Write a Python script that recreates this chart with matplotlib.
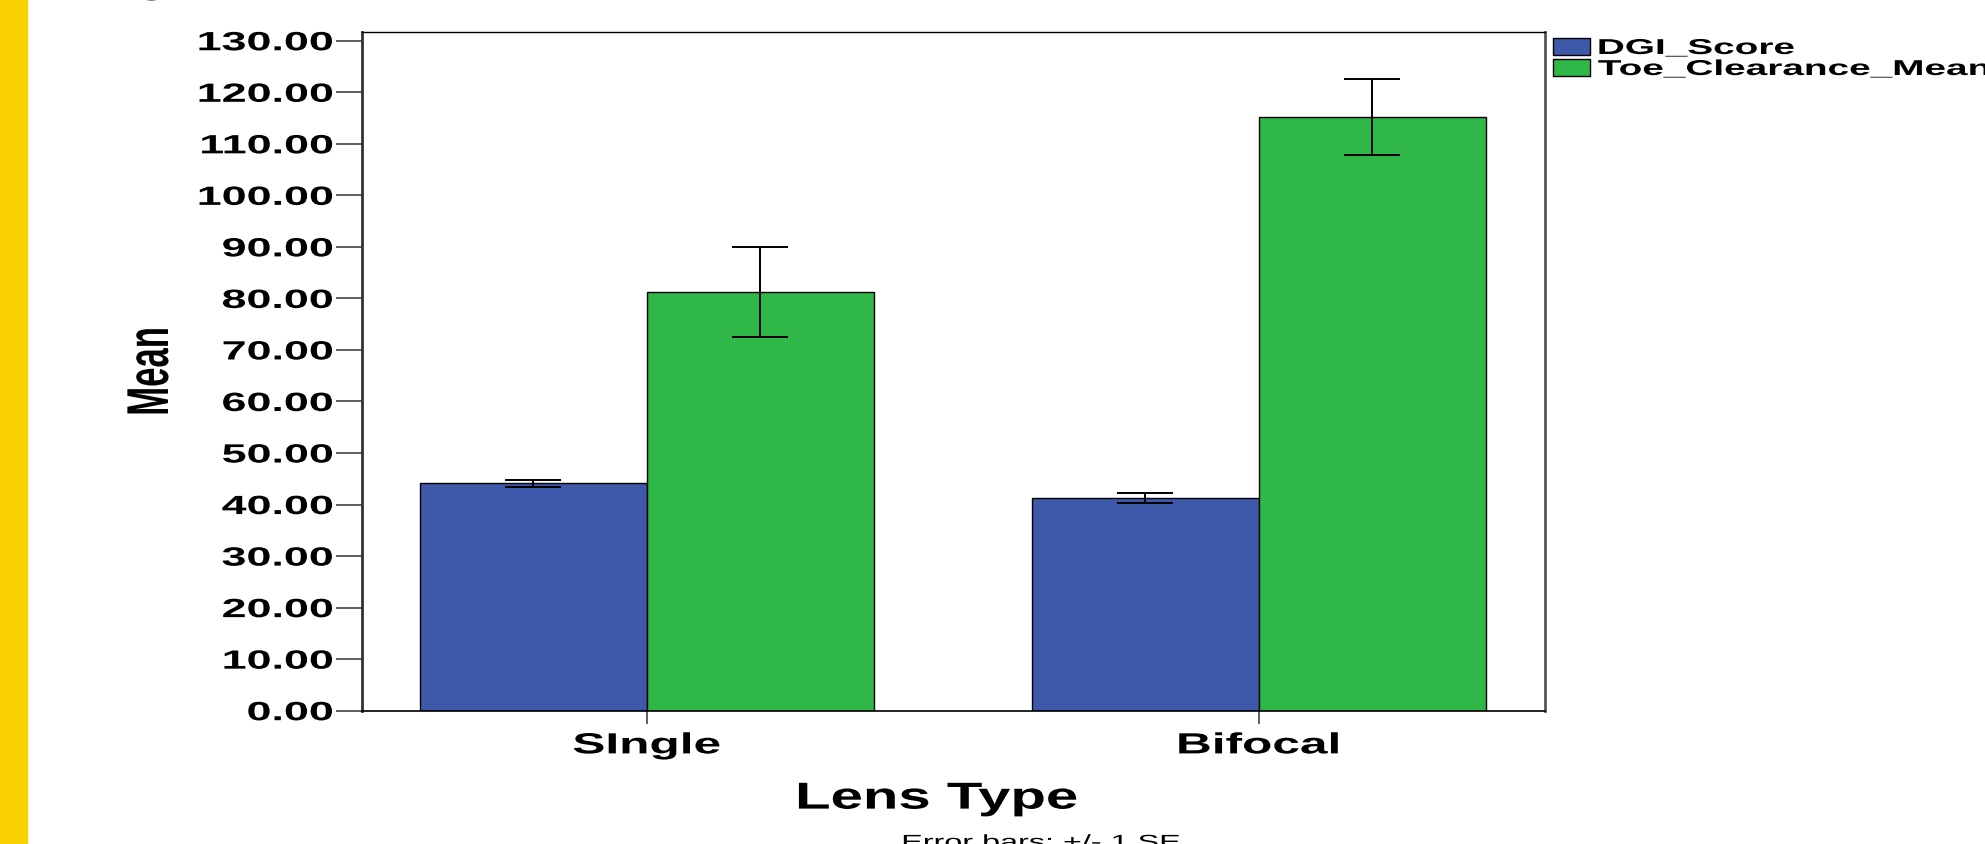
import matplotlib.pyplot as plt
import numpy as np
from matplotlib import patheffects
from matplotlib.patches import Rectangle
from matplotlib.ticker import FormatStrFormatter
from matplotlib.transforms import Affine2D

# group means and standard errors per lens type
lens_types = ["SIngle", "Bifocal"]
series_names = ["DGI_Score", "Toe_Clearance_Mean"]
dgi_mean = [44.1, 41.3]
dgi_se = [0.65, 1.0]
toe_mean = [81.3, 115.2]
toe_se = [8.7, 7.4]
y_ticks = [0, 10, 20, 30, 40, 50, 60, 70, 80, 90, 100, 110, 120, 130]

blue = "#3E59AA"
green = "#2FB748"
plt.rcParams["font.family"] = ["Liberation Sans", "DejaVu Sans"]


class WideText(patheffects.AbstractPathEffect):
    """Draw glyphs widened horizontally on screen, pinned left/center/right."""

    def __init__(self, sx=1.7, anchor="center"):
        super().__init__()
        self.sx = sx
        self.anchor = anchor

    def draw_path(self, renderer, gc, tpath, affine, rgbFace=None):
        ext = tpath.get_extents(affine)
        if self.anchor == "left":
            x0 = ext.x0
        elif self.anchor == "right":
            x0 = ext.x1
        else:
            x0 = 0.5 * (ext.x0 + ext.x1)
        widen = Affine2D().translate(-x0, 0).scale(self.sx, 1).translate(x0, 0)
        renderer.draw_path(gc, tpath, affine + widen, rgbFace)


W, H = 1985, 845
fig = plt.figure(figsize=(W / 100, H / 100), dpi=100)
fig.patches.append(Rectangle((0, 0), 27 / W, 1, transform=fig.transFigure,
                             color="#F9D100", zorder=0))

ax = fig.add_axes([362 / W, (H - 711.7) / H, 1183 / W, 678.7 / H])

x = np.arange(len(lens_types))
w = 0.371
b1 = ax.bar(x - w / 2, dgi_mean, w, color=blue, edgecolor="black",
            linewidth=1.0, label=series_names[0], zorder=2)
b2 = ax.bar(x + w / 2, toe_mean, w, color=green, edgecolor="black",
            linewidth=1.0, label=series_names[1], zorder=2)
for xs, m, e in [(x - w / 2, dgi_mean, dgi_se), (x + w / 2, toe_mean, toe_se)]:
    ax.errorbar(xs, m, yerr=e, fmt="none", ecolor="black", elinewidth=1.4,
                capsize=20.5, capthick=1.4, zorder=3)

ax.set_xlim(-0.465, 1.468)
ax.set_ylim(0, 131.7)
ax.set_yticks(y_ticks)
ax.yaxis.set_major_formatter(FormatStrFormatter("%.2f"))
ax.set_xticks(x, lens_types)

ax.tick_params(axis="y", length=18.7, width=1.1, color="#333333", pad=2.2,
               labelsize=19)
ax.tick_params(axis="x", length=9.4, width=1.1, color="#333333", pad=5.5,
               labelsize=21)
for lbl in ax.get_yticklabels():
    lbl.set_fontweight("bold")
    lbl.set_path_effects([WideText(1.7, "right")])
for lbl in ax.get_xticklabels():
    lbl.set_fontweight("bold")
    lbl.set_path_effects([WideText(1.7, "center")])

for side, lw, col in [("top", 1.0, "black"), ("bottom", 1.2, "black"),
                      ("left", 2.0, "#333333"), ("right", 2.0, "#555555")]:
    ax.spines[side].set_linewidth(lw)
    ax.spines[side].set_color(col)

xl = ax.set_xlabel("Lens Type", fontsize=27, fontweight="bold")
ax.xaxis.set_label_coords(0.486, -0.103)
xl.set_va("top")
xl.set_path_effects([WideText(1.55, "center")])

yl = ax.set_ylabel("Mean", fontsize=25, fontweight="bold", va="center",
                   ha="center", rotation_mode="default")
ax.yaxis.set_label_coords(-0.179, 0.5)
yl.set_path_effects([WideText(1.7, "center")])

leg = ax.legend(handles=[b1, b2], loc="upper left",
                bbox_to_anchor=(1553 / W, (H - 39) / H),
                bbox_transform=fig.transFigure, frameon=False,
                prop={"size": 15.5, "weight": "bold"},
                handlelength=1.72, handleheight=0.79, handletextpad=0.37,
                labelspacing=0.0, borderpad=0, borderaxespad=0)
for t in leg.get_texts():
    t.set_path_effects([WideText(1.8, "left")])

note = fig.text(1041 / W, (H - 836) / H, "Error bars: +/- 1 SE", ha="center",
                va="top", fontsize=13.7)
note.set_path_effects([WideText(1.7, "center")])

head = fig.text(152 / W, 1 + 5 / H, "g", ha="center", va="baseline",
                fontsize=22, fontweight="bold")
head.set_path_effects([WideText(1.7, "center")])

fig.savefig("out.png", dpi=100)
